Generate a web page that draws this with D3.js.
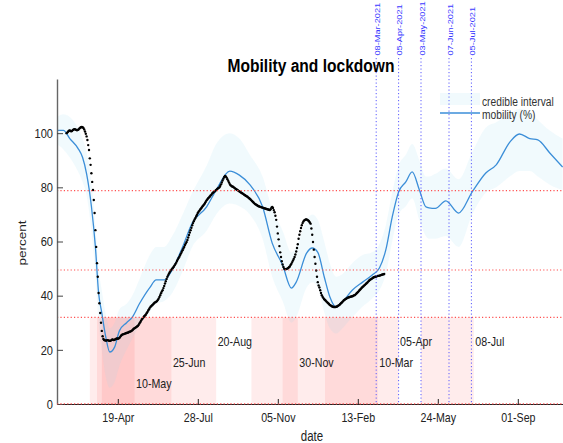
<!DOCTYPE html>
<html><head><meta charset="utf-8">
<script src="https://cdn.jsdelivr.net/npm/d3@7"></script>
<style>body{margin:0;background:#fff}svg{display:block}</style>
</head><body><svg id="c" width="563" height="443"></svg>
<script>
// ---------- DATA ----------
const observedStart = "2020-02-15";
const observed = [
100.0,100.3,100.6,100.9,101.0,100.8,100.7,100.9,101.2,101.4,
101.5,101.4,101.2,101.1,101.2,101.4,101.7,102.0,102.2,102.3,
102.2,101.9,101.4,100.6,99.8,98.8,97.5,95.6,93.8,90.7,
88.3,85.2,82.0,79.0,75.3,70.5,64.2,58.0,52.0,47.0,
41.0,37.2,33.6,30.0,27.0,25.0,24.0,23.6,23.5,23.4,
23.5,23.6,23.5,23.4,23.3,23.4,23.6,23.8,23.7,23.6,
23.7,23.9,24.1,24.2,24.1,24.2,24.4,24.8,25.2,25.5,
25.7,25.8,25.9,26.0,26.1,26.2,26.3,26.4,26.6,26.7,
26.8,27.0,27.2,27.5,27.8,28.0,28.2,28.4,28.6,28.8,
29.2,29.7,30.2,30.7,31.2,31.6,32.0,32.4,32.7,33.0,
33.5,34.0,34.5,35.0,35.5,35.9,36.2,36.5,36.8,37.1,
37.4,37.6,37.8,38.0,38.4,38.9,39.5,40.2,40.9,41.5,
42.0,42.8,43.6,44.5,45.3,46.2,47.0,47.6,48.2,48.7,
49.2,49.6,50.0,50.3,50.7,51.2,51.7,52.2,52.8,53.4,
53.9,54.4,55.0,55.6,56.2,56.8,57.4,58.0,58.7,59.3,
59.8,60.6,61.5,62.4,63.3,64.2,65.1,66.0,66.8,67.5,
68.1,68.7,69.3,69.9,70.5,71.0,71.4,71.8,72.2,72.6,
73.0,73.4,73.8,74.2,74.7,75.2,75.6,76.0,76.3,76.6,
77.0,77.3,77.7,78.0,78.3,78.5,78.8,79.0,79.3,79.6,
79.8,80.0,80.5,81.1,81.8,82.5,83.2,83.8,84.2,84.0,
83.6,83.0,82.4,81.8,81.2,80.8,80.5,80.3,80.2,80.0,
79.8,79.5,79.3,79.1,78.9,78.7,78.5,78.3,78.1,77.9,
77.7,77.5,77.3,77.1,76.9,76.7,76.5,76.3,76.0,75.8,
75.5,75.2,74.9,74.6,74.3,74.0,73.8,73.6,73.4,73.2,
73.0,72.9,72.8,72.7,72.6,72.5,72.4,72.3,72.2,72.1,
72.0,71.9,71.8,71.7,71.6,71.9,72.5,72.8,72.4,71.6,
70.8,69.5,68.0,65.5,63.0,60.8,58.3,56.0,54.3,52.7,
51.5,50.6,50.0,49.8,49.8,49.9,50.0,50.2,50.5,50.8,
51.3,51.8,52.4,53.0,53.6,54.3,55.2,56.3,57.6,59.0,
61.0,62.5,63.8,65.0,66.0,66.8,67.4,67.8,68.0,68.1,
68.1,68.0,67.8,67.5,67.0,66.6,64.8,62.5,59.8,57.0,
54.3,51.8,49.3,47.0,45.0,43.8,43.0,42.0,41.0,40.2,
39.6,39.1,38.7,38.4,38.1,37.8,37.5,37.2,36.9,36.6,
36.4,36.2,36.0,35.9,35.8,35.8,35.8,35.9,36.0,36.2,
36.4,36.6,36.9,37.2,37.5,37.8,38.1,38.4,38.6,38.8,
39.0,39.2,39.3,39.4,39.5,39.6,39.7,39.8,39.9,40.1,
40.2,40.4,40.7,41.0,41.3,41.6,42.0,42.3,42.6,42.9,
43.2,43.5,43.8,44.0,44.3,44.6,44.9,45.2,45.5,45.8,
46.0,46.2,46.4,46.6,46.8,46.9,47.0,47.1,47.2,47.3,
47.3,47.4,47.5,47.6,47.7,47.8,47.9,48.0
];

const mobilityDates = ["2020-02-03","2020-02-11","2020-02-19","2020-02-29","2020-03-06","2020-03-11","2020-03-17","2020-03-22","2020-03-26","2020-03-30","2020-04-04","2020-04-09","2020-04-15","2020-04-21","2020-04-30","2020-05-07","2020-05-16","2020-05-29","2020-06-06","2020-06-16","2020-06-26","2020-07-09","2020-07-21","2020-08-08","2020-08-20","2020-09-06","2020-09-18","2020-10-01","2020-10-17","2020-10-29","2020-11-11","2020-11-22","2020-11-28","2020-12-11","2020-12-18","2020-12-25","2021-01-02","2021-01-09","2021-01-17","2021-01-25","2021-02-06","2021-02-19","2021-03-03","2021-03-12","2021-03-20","2021-03-28","2021-04-05","2021-04-14","2021-04-22","2021-05-01","2021-05-09","2021-05-13","2021-05-21","2021-06-03","2021-06-19","2021-07-06","2021-07-23","2021-08-05","2021-08-22","2021-09-03","2021-09-16","2021-09-26","2021-10-11","2021-10-27"];
const mobility = [101,101,98,94.5,91,85,73,58,41,33.6,24.7,19.2,21,27,30,32,37,43,45.8,45.8,49.5,58,66.8,72.8,79,86,84.5,81,72.8,59.4,51.3,42.8,45,55.7,57.6,56,47,39.6,35.8,37.7,42,45,47.6,50.2,56.9,69,78.3,82,85.7,79,72.8,72.4,72.2,75,70.5,78.3,85.3,88.3,96.7,99.7,98,97.5,92.7,87.5];
const mobilityLo = [96,94,91,86,82,77,64,48,30,20,10,6,8,14,20,24,29,34,37,38,41,49,58,64,70,74,73,70,61,47,38,30,32,43,45,43,34,28,26,28,32,36,39,42,48,60,70,73,76,68,62,61,61,62,58,70,78,80,84,86,86,84,81,79];
const mobilityHi = [106,107,106,102,98,93,82,66,50,42,33,28,30,35,37,40,46,55,58,58,62,70,78,88,96,100,98,92,84,72,64,56,58,68,70,68,60,52,47,48,52,55,56,59,66,78,88,92,96,90,84,84,85,87,83,93,102,104,107,109,108,105,101,98];

const lockStart = ["2020-03-15","2020-03-24","2020-03-30","2020-10-03","2020-11-11","2021-01-03","2021-05-03"];
const lockEnd   = ["2020-08-20","2020-06-25","2020-05-10","2021-04-05","2020-11-30","2021-03-10","2021-07-08"];
const lockLabels = ["20-Aug","25-Jun","10-May","05-Apr","30-Nov","10-Mar","08-Jul"];
const lockLabelY = [23.25,15.5,7.75,23.25,15.5,15.5,23.25];
const lockTop = 32;

const markDates = ["2021-03-08","2021-04-05","2021-05-03","2021-06-07","2021-07-05"];
const markLabels = ["08-Mar-2021","05-Apr-2021","03-May-2021","07-Jun-2021","05-Jul-2021"];

const thresholds = [78.8, 49.5, 32, 0];

const xTickDates = ["2020-04-19","2020-07-28","2020-11-05","2021-02-13","2021-05-24","2021-09-01"];
const xTickLabels = ["19-Apr","28-Jul","05-Nov","13-Feb","24-May","01-Sep"];
const yTicks = [0,20,40,60,80,100];

// ---------- DRAW ----------
const P = d3.utcParse("%Y-%m-%d");
const svg = d3.select("#c");
const FONT = "'Liberation Sans',Arial,sans-serif";
const SQ = 0.82; // horizontal squeeze of glyphs
const L = 57, R = 562.6, T = 79, B = 404;
const x = d3.scaleUtc().domain([P("2020-02-03"), P("2021-10-27")]).range([L, R]);
const y = d3.scaleLinear().domain([0, 120]).range([B, T]);

function txt(parent, px, py, str, size, opts={}) {
  const t = parent.append("text")
    .attr("transform", `translate(${px},${py}) ` + (opts.rot ? `rotate(-90) scale(1,${SQ})` : `scale(${SQ},1)`))
    .attr("font-family", FONT).attr("font-size", size)
    .attr("fill", opts.fill || "#222")
    .attr("text-anchor", opts.anchor || "start")
    .text(str);
  if (opts.bold) t.attr("font-weight", "bold");
  return t;
}

svg.append("defs").append("clipPath").attr("id","clip")
  .append("rect").attr("x",L).attr("y",T).attr("width",R-L+1).attr("height",B-T);
const plot = svg.append("g").attr("clip-path","url(#clip)");

// lockdown shading
const locks = lockStart.map((s,i)=>({s:P(s), e:P(lockEnd[i]), label:lockLabels[i], ly:lockLabelY[i]}));
plot.selectAll("rect.lock").data(locks).join("rect").attr("class","lock")
  .attr("x",d=>x(d.s)).attr("width",d=>x(d.e)-x(d.s))
  .attr("y",y(lockTop)).attr("height",y(0)-y(lockTop))
  .attr("fill","rgb(255,0,0)").attr("fill-opacity",0.075);

// credible band
const mob = mobilityDates.map((d,i)=>({date:P(d), v:mobility[i], lo:mobilityLo[i], hi:mobilityHi[i]}));
const BAND = "rgb(150,215,240)", BANDOP = 0.13;
plot.append("path").datum(mob)
  .attr("d", d3.area().x(d=>x(d.date)).y0(d=>y(d.lo)).y1(d=>y(d.hi)).curve(d3.curveMonotoneX))
  .attr("fill",BAND).attr("fill-opacity",BANDOP);

// threshold lines
svg.selectAll("line.thr").data(thresholds).join("line").attr("class","thr")
  .attr("x1",L).attr("x2",563).attr("y1",d=>y(d)).attr("y2",d=>y(d))
  .attr("stroke","#ff5050").attr("stroke-width",1.1).attr("stroke-dasharray","1.2,2.2");

// axes
const xAxis = d3.axisBottom(x).tickValues(xTickDates.map(P)).tickFormat((d,i)=>xTickLabels[i])
  .tickSizeInner(-5).tickSizeOuter(0).tickPadding(9);
const gx = svg.append("g").attr("transform",`translate(0,${B})`).call(xAxis);
gx.select(".domain").attr("stroke","#222").attr("stroke-width",1.2);
gx.selectAll(".tick line").attr("stroke","#222");
gx.selectAll(".tick text").attr("font-family",FONT).attr("font-size",13).attr("fill","#222")
  .attr("transform",`scale(${SQ},1)`);

const yAxis = d3.axisLeft(y).tickValues(yTicks).tickSizeInner(-6).tickSizeOuter(0).tickPadding(4);
const gy = svg.append("g").attr("transform",`translate(${L},0)`).call(yAxis);
gy.select(".domain").attr("stroke","#666").attr("stroke-width",1.4);
gy.selectAll(".tick line").attr("stroke","#444");
gy.selectAll(".tick text").attr("font-family",FONT).attr("font-size",13.5).attr("fill","#222")
  .attr("x",-4/SQ).attr("transform",`scale(${SQ},1)`);

// red dotted on top of bottom axis
svg.append("line").attr("x1",L).attr("x2",563).attr("y1",y(0)).attr("y2",y(0))
  .attr("stroke","#ff5050").attr("stroke-width",1.1).attr("stroke-dasharray","1.2,2.2");

// vertical markers
const marks = markDates.map((d,i)=>({date:P(d), label:markLabels[i]}));
svg.selectAll("line.mark").data(marks).join("line").attr("class","mark")
  .attr("x1",d=>x(d.date)).attr("x2",d=>x(d.date)).attr("y1",58).attr("y2",B)
  .attr("stroke","#5a5aff").attr("stroke-width",1).attr("stroke-dasharray","1.2,2.3");
marks.forEach(d => txt(svg, x(d.date)+3.8, 55.5, d.label, 9.2, {rot:true, fill:"#3a3aff"}));

// lockdown labels
locks.forEach(d => txt(svg, x(d.e)+1.5, y(d.ly)+4.5, d.label, 13));

// mobility line
plot.append("path").datum(mob)
  .attr("d", d3.line().x(d=>x(d.date)).y(d=>y(d.v)).curve(d3.curveMonotoneX))
  .attr("fill","none").attr("stroke","#3b8ed8").attr("stroke-width",1.3);

// observed daily points
const t0 = P(observedStart);
const obs = observed.map((v,i)=>({date:d3.utcDay.offset(t0,i), v}));
plot.selectAll("circle.obs").data(obs).join("circle").attr("class","obs")
  .attr("cx",d=>x(d.date)).attr("cy",d=>y(d.v)).attr("r",1.2).attr("fill","#000");

// legend
svg.append("rect").attr("x",440).attr("y",93).attr("width",40).attr("height",12)
  .attr("fill",BAND).attr("fill-opacity",BANDOP);
svg.append("line").attr("x1",440).attr("x2",480).attr("y1",113).attr("y2",113)
  .attr("stroke","#3b8ed8").attr("stroke-width",1.3);
txt(svg, 482, 105.5, "credible interval", 12.5, {fill:"#333"});
txt(svg, 482, 119, "mobility (%)", 12.5, {fill:"#333"});

// titles
txt(svg, 311, 72, "Mobility and lockdown", 19, {anchor:"middle", bold:true, fill:"#000"});
txt(svg, 312, 441, "date", 14, {anchor:"middle"});
txt(svg, 26, 243, "percent", 13.5, {anchor:"middle", rot:true});
</script>
</body></html>
